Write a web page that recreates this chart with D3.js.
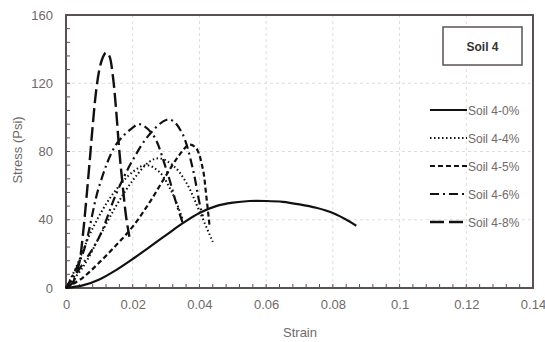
<!DOCTYPE html>
<html><head><meta charset="utf-8">
<script src="https://cdn.jsdelivr.net/npm/d3@7"></script>
<style>body{margin:0;background:#fff}</style>
</head><body>
<svg id="c" width="545" height="342"></svg>
<script>
const xTicks = [0,0.02,0.04,0.06,0.08,0.1,0.12,0.14];
const yTicks = [0,40,80,120,160];
const seriesNames = ["Soil 4-0%","Soil 4-4%","Soil 4-5%","Soil 4-6%","Soil 4-8%"];
// each curve: [strain, stress]
const soil0 = [[0,0],[0.005,1.5],[0.01,5],[0.015,10.5],[0.02,17],[0.025,24],[0.03,31],[0.035,38],[0.04,44],[0.045,48],[0.05,50],[0.055,51],[0.06,51],[0.065,50.5],[0.07,49],[0.075,47],[0.08,44],[0.085,39],[0.087,36.5]];
const soil4a = [[0,0],[0.003,12],[0.008,35],[0.014,55],[0.02,68],[0.024,72],[0.028,68],[0.032,55],[0.035,40]];
const soil4b = [[0,0],[0.005,12],[0.01,30],[0.015,48],[0.02,63],[0.025,74],[0.028,76],[0.032,72],[0.036,62],[0.04,45],[0.044,27]];
const soil5 = [[0,0],[0.005,6],[0.01,15],[0.015,25],[0.02,36],[0.025,50],[0.03,66],[0.034,78],[0.037,84],[0.039,82],[0.041,70],[0.042,55],[0.043,37]];
const soil6a = [[0,0],[0.005,14],[0.01,30],[0.015,55],[0.02,75],[0.025,90],[0.03,98.5],[0.032,98],[0.035,90],[0.038,70],[0.04,50],[0.041,42]];
const soil6b = [[0,0],[0.005,20],[0.01,60],[0.015,84],[0.02,94],[0.022,96],[0.026,90],[0.03,70],[0.033,50],[0.035,38]];
const soil8 = [[0,0],[0.002,3],[0.004,15],[0.005,30],[0.006,50],[0.007,72],[0.008,95],[0.009,115],[0.01,128],[0.011,135],[0.012,138],[0.013,136],[0.014,125],[0.015,105],[0.016,80],[0.017,60],[0.018,42],[0.019,30]];

const curves = [
  {s:0,d:soil0},{s:1,d:soil4a},{s:1,d:soil4b},{s:2,d:soil5},{s:3,d:soil6a},{s:3,d:soil6b},{s:4,d:soil8}
];
const styles = [
  {dash:null,w:2.2},
  {dash:"1.5,2.5",w:2},
  {dash:"5,3",w:2.2},
  {dash:"9,4,2,4",w:2.2},
  {dash:"14,5",w:2.4}
];

const svg = d3.select("#c");
const L=66,R=533,T=15,B=288;
const x = d3.scaleLinear().domain([0,0.14]).range([L,R]);
const y = d3.scaleLinear().domain([0,160]).range([B,T]);
const font = "'Liberation Sans', Arial, sans-serif";
const tcol = "#6e6a68", fcol = "#5a5250";

// gridlines
svg.append("g").selectAll("line.vx").data(xTicks.slice(1,-1)).join("line")
  .attr("x1",d=>x(d)).attr("x2",d=>x(d)).attr("y1",T).attr("y2",B)
  .attr("stroke","#ddd").attr("stroke-dasharray","3,3");
svg.append("g").selectAll("line.hy").data(yTicks.slice(1,-1)).join("line")
  .attr("y1",d=>y(d)).attr("y2",d=>y(d)).attr("x1",L).attr("x2",R)
  .attr("stroke","#ddd").attr("stroke-dasharray","3,3");

// axes
const xAxis = svg.append("g").attr("transform",`translate(0,${B})`)
  .call(d3.axisBottom(x).tickValues(xTicks).tickFormat(d=>d3.format("~g")(d)).tickSize(0).tickPadding(12));
const yAxis = svg.append("g").attr("transform",`translate(${L},0)`)
  .call(d3.axisLeft(y).tickValues(yTicks).tickSize(0).tickPadding(13));
[xAxis,yAxis].forEach(a=>{
  a.select(".domain").remove();
  a.selectAll("text").attr("font-family",font).attr("font-size",13).attr("fill",tcol);
});
// minor ticks inside
const xMinor = d3.range(0,0.1401,0.004);
svg.append("g").selectAll("line").data(xMinor).join("line")
  .attr("x1",d=>x(d)).attr("x2",d=>x(d)).attr("y1",B).attr("y2",B-4)
  .attr("stroke",fcol).attr("stroke-width",1);
const yMinor = d3.range(0,160.1,8);
svg.append("g").selectAll("line").data(yMinor).join("line")
  .attr("y1",d=>y(d)).attr("y2",d=>y(d)).attr("x1",L).attr("x2",L+4)
  .attr("stroke",fcol).attr("stroke-width",1);
// frame
svg.append("rect").attr("x",L).attr("y",T).attr("width",R-L).attr("height",B-T)
  .attr("fill","none").attr("stroke",fcol).attr("stroke-width",2);

// curves
const line = d3.line().x(d=>x(d[0])).y(d=>y(d[1])).curve(d3.curveMonotoneX);
svg.append("g").selectAll("path").data(curves).join("path")
  .attr("d",c=>d3.line().x(d=>x(d[0])).y(d=>y(d[1])).curve(d3.curveCatmullRom.alpha(0.5))(c.d))
  .attr("fill","none").attr("stroke","#111")
  .attr("stroke-width",c=>styles[c.s].w)
  .attr("stroke-dasharray",c=>styles[c.s].dash);

// legend title box
svg.append("rect").attr("x",443).attr("y",27).attr("width",79).attr("height",38)
  .attr("fill","#fff").attr("stroke",fcol).attr("stroke-width",1.5);
svg.append("text").attr("x",482.5).attr("y",51).attr("text-anchor","middle")
  .attr("font-family",font).attr("font-size",12).attr("font-weight","bold").attr("fill","#333").text("Soil 4");

// legend
const lg = svg.append("g").selectAll("g").data(seriesNames).join("g")
  .attr("transform",(d,i)=>`translate(0,${110+i*28})`);
lg.append("line").attr("x1",430).attr("x2",467).attr("y1",0).attr("y2",0)
  .attr("stroke","#111").attr("stroke-width",(d,i)=>styles[i].w)
  .attr("stroke-dasharray",(d,i)=>styles[i].dash);
lg.append("text").attr("x",468).attr("y",4.5).attr("font-family",font).attr("font-size",12)
  .attr("fill",tcol).text(d=>d);

// axis titles
svg.append("text").attr("x",300).attr("y",337).attr("text-anchor","middle")
  .attr("font-family",font).attr("font-size",13).attr("fill",tcol).text("Strain");
svg.append("text").attr("transform","translate(22,150) rotate(-90)").attr("text-anchor","middle")
  .attr("font-family",font).attr("font-size",13).attr("fill",tcol).text("Stress (Psi)");
</script>
</body></html>
